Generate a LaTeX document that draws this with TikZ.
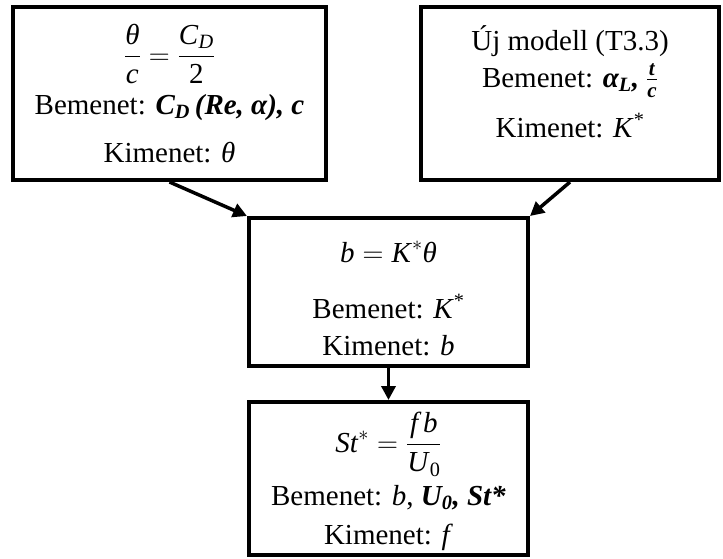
\RequirePackage{fix-cm}
\documentclass[tikz,border=0pt]{standalone}
\usepackage{amsmath}
\usepackage{fontspec}
\setmainfont{Liberation Serif}
\usetikzlibrary{arrows.meta}
\newcommand\mi[1]{\text{\textit{#1}}}
\newcommand\mr[1]{\text{#1}}
\newcommand\mbi[1]{\mbox{\fontsize{21}{21}\selectfont\textbf{\textit{#1}}}}
\begin{document}
\begin{tikzpicture}[x=1pt,y=-1pt,
  box/.style={draw, line width=4pt, inner sep=0pt},
  txt/.style={anchor=base, inner sep=0pt, font=\fontsize{29}{34}\selectfont},
  arr/.style={line width=3.5pt, -{Triangle[length=14pt,width=14pt]}}]
\useasboundingbox (0,0) rectangle (723,558);
% boxes
\node[box, minimum width=313pt, minimum height=173pt] (b1) at (169.5,93.5) {};
\node[box, minimum width=298pt, minimum height=173pt] (b2) at (570,93.5) {};
\node[box, minimum width=279pt, minimum height=148pt] (b3) at (388.5,292) {};
\node[box, minimum width=279pt, minimum height=153pt] (b4) at (388.5,478.5) {};
% box 1 text
\node[txt] (e1) at (169.5,64) {$\displaystyle\frac{\mi{θ}}{\mi{c}}=\frac{\mi{C}_{\mi{D}}}{\mr{2}}$};
\node[txt] (i1) at (169.5,114) {Bemenet: \textbf{\textit{C\textsubscript{D}\,(Re, α), c}}};
\node[txt] (o1) at (169.5,162) {Kimenet: \textit{θ}};
% box 2 text
\node[txt] (t2) at (570,50) {Új modell (T3.3)};
\node[txt] (i2) at (570,87) {Bemenet: \textbf{\textit{α\textsubscript{L},}} $\frac{\mbi{t}}{\mbi{c}}$};
\node[txt] (o2) at (570,137) {Kimenet: \textit{K}\textsuperscript{*}};
% box 3 text
\node[txt] (e3) at (388.5,262) {$\mi{b}=\mi{K}^{*}\mi{θ}$};
\node[txt] (i3) at (388.5,318) {Bemenet: \textit{K}\textsuperscript{*}};
\node[txt] (o3) at (388.5,355) {Kimenet: \textit{b}};
% box 4 text
\node[txt] (e4) at (388.5,452) {$\displaystyle \mi{St}^{*}=\frac{\mi{f\,b}}{\mi{U}_{\mr{0}}}$};
\node[txt] (i4) at (388.5,505) {Bemenet: \textit{b}, \textbf{\textit{U\textsubscript{0}, St*}}};
\node[txt] (o4) at (388.5,544) {Kimenet: \textit{f}};
% arrows
\draw[arr] (b1.south) -- (b3.north west);
\draw[arr] (b2.south) -- (b3.north east);
\draw[arr] (b3.south) -- (b4.north);
\end{tikzpicture}
\end{document}
